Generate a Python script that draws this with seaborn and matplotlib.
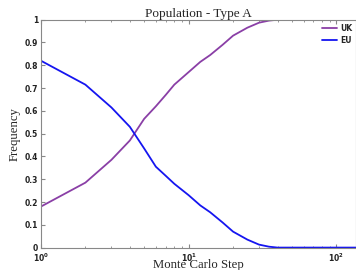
import matplotlib
matplotlib.use("Agg")
import matplotlib.pyplot as plt
import seaborn as sns
import pandas as pd

steps = [1, 2, 3, 4, 5, 6, 7, 8, 10, 12, 14, 17, 20, 25, 30, 35, 40, 50, 70, 100, 140]
uk = [0.18, 0.285, 0.385, 0.47, 0.565, 0.62, 0.67, 0.715, 0.77, 0.815, 0.845, 0.89,
      0.93, 0.965, 0.987, 0.996, 1.0, 1.0, 1.0, 1.0, 1.0]
eu = [0.82, 0.715, 0.615, 0.53, 0.435, 0.355, 0.315, 0.28, 0.23, 0.185, 0.155, 0.11,
      0.07, 0.035, 0.013, 0.004, 0.0, 0.0, 0.0, 0.0, 0.0]

df = pd.DataFrame({
    "step": steps * 2,
    "freq": uk + eu,
    "group": ["UK"] * len(steps) + ["EU"] * len(steps),
})

sns.set_style("ticks")
plt.rcParams["font.family"] = ["DejaVu Sans"]

fig = plt.figure(figsize=(3.56, 2.70), dpi=100)
ax = fig.add_axes([0.115, 0.083, 0.885, 0.844])

sns.lineplot(data=df, x="step", y="freq", hue="group",
             palette={"UK": "#8a3fa6", "EU": "#1515f0"}, linewidth=1.3, ax=ax)

ax.set_xscale("log")
ax.set_xlim(1, 136)
ax.set_ylim(0, 1)
ax.set_yticks([i / 10 for i in range(11)])
ax.set_yticklabels(["0"] + [f"{i/10:.1f}" for i in range(1, 10)] + ["1"])
ax.set_xticks([1, 10, 100])
ax.set_xticklabels([r"$\mathbf{10^0}$", r"$\mathbf{10^1}$", r"$\mathbf{10^2}$"])

for lbl in ax.get_yticklabels() + ax.get_xticklabels():
    lbl.set_fontweight("bold")
    lbl.set_fontsize(5.5)
    lbl.set_color("#222222")

ax.tick_params(which="both", direction="in", color="#888888", top=True)
ax.tick_params(which="major", length=3, pad=2)
ax.tick_params(axis="x", which="major", pad=3)
ax.tick_params(which="minor", length=1.5)
for s in ax.spines.values():
    s.set_color("#888888")
    s.set_linewidth(0.8)

serif = ["Liberation Serif", "DejaVu Serif"]
ax.set_title("Population - Type A", family=serif, fontsize=9.5, pad=0)
ax.set_xlabel("Monte Carlo Step", family=serif, fontsize=9.2, labelpad=-4)
ax.set_ylabel("Frequency", family=serif, fontsize=9.2, labelpad=3)

handles, labels = ax.get_legend_handles_labels()
ax.legend(handles, labels, loc="upper right", frameon=False, handlelength=2,
          prop={"weight": "bold", "size": 5.5}, borderaxespad=0.1,
          handletextpad=0.4, labelspacing=0.4)

fig.savefig("out.png", dpi=100)
